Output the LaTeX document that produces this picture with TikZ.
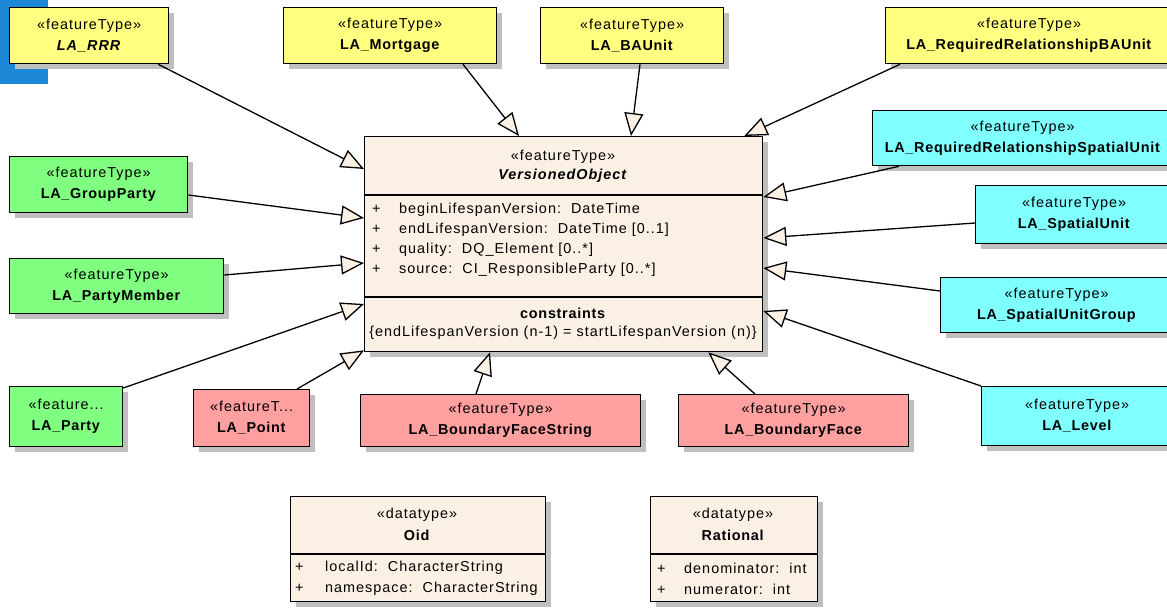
\documentclass[tikz,border=0pt]{standalone}
\usepackage{fontspec}
\setmainfont{Liberation Sans}[LetterSpace=7,BoldFeatures={LetterSpace=5}]
\usetikzlibrary{arrows.meta,shadows}
\definecolor{ftyellow}{HTML}{FFFF80}
\definecolor{ftgreen}{HTML}{80FF80}
\definecolor{ftpink}{HTML}{FFA0A0}
\definecolor{ftcyan}{HTML}{80FFFF}
\definecolor{voback}{HTML}{FAF0E4}
\definecolor{boxshadow}{HTML}{BFBFBF}
\definecolor{markblue}{HTML}{1E88D8}

\begin{document}
\begin{tikzpicture}[x=1pt,y=-1pt,
    ftbox/.style={draw,line width=1.3pt,anchor=north west,inner sep=0pt,align=center,
      font=\fontsize{14.4}{21}\selectfont,
      drop shadow={shadow xshift=5pt,shadow yshift=-5pt,fill=boxshadow,opacity=1}},
    gen/.style={line width=1.3pt,-{Triangle[length=23pt,width=19pt,fill=voback]}},
    txt/.style={font=\fontsize{14.4}{20}\selectfont,inner sep=0pt}]
    \useasboundingbox (0,0) rectangle (1167,609);
    \fill[markblue] (0,0) rectangle (48,84);

    % top row
    \node[ftbox,fill=ftyellow,minimum width=159pt,minimum height=56pt] (rrr) at (9,7) {«featureType»\\\textbf{\textit{LA\_RRR}}};
    \node[ftbox,fill=ftyellow,minimum width=213pt,minimum height=56pt] (mortgage) at (283,7) {«featureType»\\\textbf{LA\_Mortgage}};
    \node[ftbox,fill=ftyellow,minimum width=183pt,minimum height=56pt] (baunit) at (540,7) {«featureType»\\\textbf{LA\_BAUnit}};
    \node[ftbox,fill=ftyellow,minimum width=287pt,minimum height=56pt] (rrbaunit) at (885,7) {«featureType»\\\textbf{LA\_RequiredRelationshipBAUnit}};

    % left side
    \node[ftbox,fill=ftgreen,minimum width=178pt,minimum height=56pt] (groupparty) at (9,156) {«featureType»\\\textbf{LA\_GroupParty}};
    \node[ftbox,fill=ftgreen,minimum width=214pt,minimum height=55pt] (partymember) at (9,258) {«featureType»\\\textbf{LA\_PartyMember}};
    \node[ftbox,fill=ftgreen,minimum width=113pt,minimum height=60pt] (party) at (9,386) {«feature...\\\textbf{LA\_Party}};

    % right side
    \node[ftbox,fill=ftcyan,minimum width=300pt,minimum height=55pt] (rrspatialunit) at (872,110) {«featureType»\\\textbf{LA\_RequiredRelationshipSpatialUnit}};
    \node[ftbox,fill=ftcyan,minimum width=197pt,minimum height=58pt] (spatialunit) at (975,185) {«featureType»\\\textbf{LA\_SpatialUnit}};
    \node[ftbox,fill=ftcyan,minimum width=232pt,minimum height=55pt] (sugroup) at (940,277) {«featureType»\\\textbf{LA\_SpatialUnitGroup}};
    \node[ftbox,fill=ftcyan,minimum width=191pt,minimum height=59pt] (level) at (981,386) {«featureType»\\\textbf{LA\_Level}};

    % bottom row
    \node[ftbox,fill=ftpink,minimum width=116pt,minimum height=57pt] (point) at (193,389) {«featureT...\\\textbf{LA\_Point}};
    \node[ftbox,fill=ftpink,minimum width=280pt,minimum height=52pt] (bfstring) at (360,394) {«featureType»\\\textbf{LA\_BoundaryFaceString}};
    \node[ftbox,fill=ftpink,minimum width=230pt,minimum height=52pt] (bface) at (678,394) {«featureType»\\\textbf{LA\_BoundaryFace}};

    % VersionedObject
    \node[ftbox,fill=voback,minimum width=398pt,minimum height=215pt] (vo) at (364,136) {};
    \draw[line width=1.3pt] ([yshift=-59pt]vo.north west) -- ([yshift=-59pt]vo.north east);
    \draw[line width=1.3pt] ([yshift=-161pt]vo.north west) -- ([yshift=-161pt]vo.north east);
    \node[txt] (vost) at (563,157) {«featureType»};
    \node[txt] (voname) at (563,176) {\textbf{\textit{VersionedObject}}};
    \node[txt,anchor=west] (voattra) at (372,210) {\makebox[27pt][l]{+}beginLifespanVersion:\ \ DateTime};
    \node[txt,anchor=west] (voattrb) at (372,230) {\makebox[27pt][l]{+}endLifespanVersion:\ \ DateTime [0..1]};
    \node[txt,anchor=west] (voattrc) at (372,250) {\makebox[27pt][l]{+}quality:\ \ DQ\_Element [0..*]};
    \node[txt,anchor=west] (voattrd) at (372,270) {\makebox[27pt][l]{+}source:\ \ CI\_ResponsibleParty [0..*]};
    \node[txt] (vocons) at (563,313) {\textbf{constraints}};
    \node[txt] (voconstext) at (563,333) {\{endLifespanVersion (n-1) = startLifespanVersion (n)\}};

    % datatypes
    \node[ftbox,fill=voback,minimum width=255pt,minimum height=105pt] (oid) at (290,496) {};
    \draw[line width=1.3pt] ([yshift=-58pt]oid.north west) -- ([yshift=-58pt]oid.north east);
    \node[txt] (oidst) at (417,515) {«datatype»};
    \node[txt] (oidname) at (417,535) {\textbf{Oid}};
    \node[txt,anchor=west] (oidattra) at (295,568) {\makebox[30pt][l]{+}localId:\ \ CharacterString};
    \node[txt,anchor=west] (oidattrb) at (295,589) {\makebox[30pt][l]{+}namespace:\ \ CharacterString};

    \node[ftbox,fill=voback,minimum width=167pt,minimum height=105pt] (rational) at (650,496) {};
    \draw[line width=1.3pt] ([yshift=-58pt]rational.north west) -- ([yshift=-58pt]rational.north east);
    \node[txt] (ratst) at (733,515) {«datatype»};
    \node[txt] (ratname) at (733,535) {\textbf{Rational}};
    \node[txt,anchor=west] (ratattra) at (657,568) {\makebox[27pt][l]{+}denominator:\ \ int};
    \node[txt,anchor=west] (ratattrb) at (657,589) {\makebox[27pt][l]{+}numerator:\ \ int};

    % generalizations
    \draw[gen] ([xshift=-11pt]rrr.south east) -- ([yshift=-33pt]vo.north west);
    \draw[gen] ([xshift=180pt]mortgage.south west) -- ([xshift=155pt]vo.north west);
    \draw[gen] ([xshift=100pt]baunit.south west) -- ([xshift=267pt]vo.north west);
    \draw[gen] ([xshift=15pt]rrbaunit.south west) -- ([xshift=-19pt]vo.north east);
    \draw[gen] ([xshift=27pt]rrspatialunit.south west) -- ([yshift=-61pt]vo.north east);
    \draw[gen] ([yshift=-38pt]spatialunit.north west) -- ([yshift=-102pt]vo.north east);
    \draw[gen] ([yshift=-14pt]sugroup.north west) -- ([yshift=-132pt]vo.north east);
    \draw[gen] (level.north west) -- ([yshift=-175pt]vo.north east);
    \draw[gen] ([yshift=-39pt]groupparty.north east) -- ([yshift=-82pt]vo.north west);
    \draw[gen] ([yshift=-17pt]partymember.north east) -- ([yshift=-127pt]vo.north west);
    \draw[gen] ([yshift=-2pt]party.north east) -- ([yshift=-168pt]vo.north west);
    \draw[gen] ([xshift=104pt]point.north west) -- ([yshift=2pt]vo.south west);
    \draw[gen] ([xshift=116pt]bfstring.north west) -- ([xshift=126pt]vo.south west);
    \draw[gen] ([xshift=77pt]bface.north west) -- ([xshift=-55pt]vo.south east);
\end{tikzpicture}
\end{document}
